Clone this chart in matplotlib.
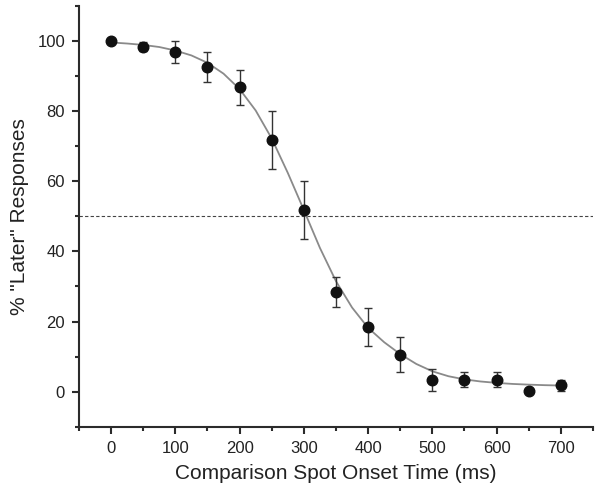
import matplotlib

matplotlib.use("Agg")

import matplotlib.pyplot as plt
from matplotlib.ticker import MultipleLocator

# ── Data ────────────────────────────────────────────────────────────────────
onset_ms = [0, 50, 100, 150, 200, 250, 300, 350, 400, 450, 500, 550, 600, 650, 700]
pct_later = [100.0, 98.4, 96.8, 92.5, 86.8, 71.7, 51.7, 28.4, 18.4, 10.5,
             3.4, 3.4, 3.4, 0.1, 1.8]
pct_err = [0.0, 1.2, 3.2, 4.3, 5.0, 8.3, 8.3, 4.3, 5.5, 5.0, 3.1, 2.1, 2.1, 0.0, 1.6]

# fitted sigmoid, every 25 ms
fit_ms = [0, 25, 50, 75, 100, 125, 150, 175, 200, 225, 250, 275, 300, 325, 350,
          375, 400, 425, 450, 475, 500, 525, 550, 575, 600, 625, 650, 675, 700]
fit_pct = [99.6, 99.3, 98.9, 98.3, 97.3, 95.9, 93.8, 90.7, 86.3, 80.2, 72.2, 62.4,
           51.8, 41.0, 31.5, 24.0, 18.2, 14.1, 10.7, 7.9, 5.8, 4.4, 3.5, 2.9,
           2.5, 2.2, 2.0, 1.85, 1.75]

criterion = 50

AXIS = "#2b2b2b"
plt.rcParams.update({
    "font.family": ["Liberation Sans", "DejaVu Sans"],
    "axes.spines.top": False, "axes.spines.right": False,
})

fig = plt.figure(figsize=(6.01, 4.92), dpi=100)
ax = fig.add_axes([0.1314, 0.1327, 0.8553, 0.8551])

ax.axhline(criterion, color="#444444", linewidth=0.8, linestyle=(0, (3, 2)), zorder=1)
ax.plot(fit_ms, fit_pct, color="#8a8a8a", linewidth=1.3, zorder=2)
ax.errorbar(onset_ms, pct_later, yerr=pct_err, fmt="o", color="#111111",
            markersize=7.6, ecolor="#333333", elinewidth=1.0, capsize=3,
            capthick=1.0, zorder=3)

ax.set_xlim(-50, 750)
ax.set_ylim(-10, 110)
ax.xaxis.set_major_locator(MultipleLocator(100))
ax.xaxis.set_minor_locator(MultipleLocator(50))
ax.yaxis.set_major_locator(MultipleLocator(20))
ax.yaxis.set_minor_locator(MultipleLocator(10))
ax.set_xticks(range(0, 701, 100))
ax.set_yticks(range(0, 101, 20))

for side in ("left", "bottom"):
    ax.spines[side].set_linewidth(1.5)
    ax.spines[side].set_color(AXIS)
ax.tick_params(which="major", direction="out", length=5, width=1.5, color=AXIS,
               labelsize=12, labelcolor="#222222", pad=5)
ax.tick_params(which="minor", direction="out", length=2.8, width=1.5, color=AXIS)

ax.set_xlabel("Comparison Spot Onset Time (ms)", fontsize=15, color="#222222", labelpad=6)
ax.set_ylabel('% "Later" Responses', fontsize=15, color="#222222", labelpad=6)

fig.savefig("out.png", dpi=100)
